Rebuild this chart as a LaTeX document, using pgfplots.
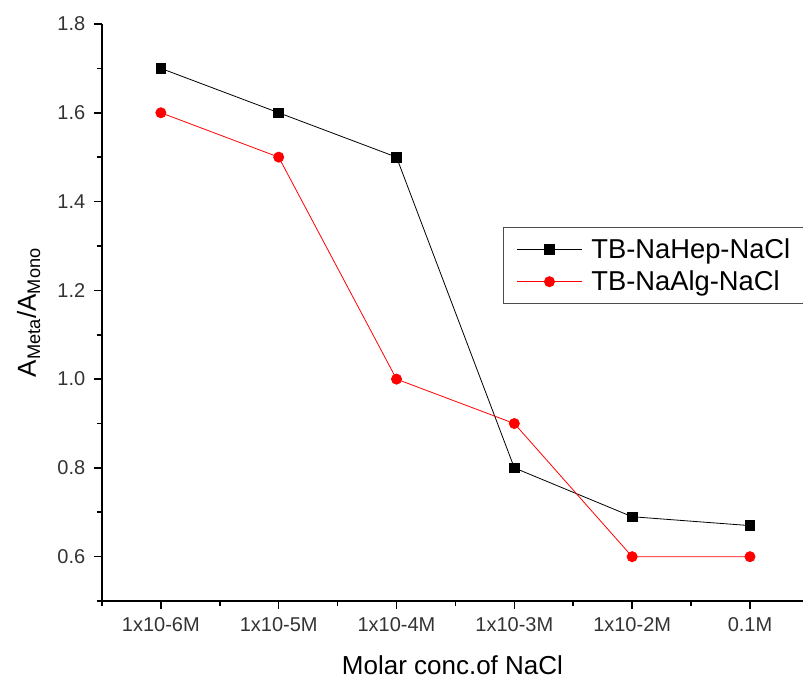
\documentclass[border=0pt]{standalone}
\usepackage{pgfplots}
\pgfplotsset{compat=1.18}
\usepackage{fontspec}
\setmainfont{Liberation Sans}
\begin{document}
\begin{tikzpicture}
\begin{axis}[
  scale only axis,
  width=526pt, height=433pt,
  xmin=-0.5, xmax=5.45,
  ymin=0.5, ymax=1.8,
  axis x line=bottom, axis y line=left,
  axis line style={line width=1.4pt, -},
  xtick={0,1,2,3,4,5},
  xticklabels={1x10-6M,1x10-5M,1x10-4M,1x10-3M,1x10-2M,0.1M},
  minor xtick={-0.5,0.5,1.5,2.5,3.5,4.5},
  ytick={0.6,0.8,1.0,1.2,1.4,1.6,1.8},
  yticklabels={0.6,0.8,1.0,1.2,1.4,1.6,1.8},
  minor ytick={0.5,0.7,0.9,1.1,1.3,1.5,1.7},
  tick style={line width=1.2pt, black},
  tick align=outside,
  major tick length=6pt, minor tick length=4pt,
  /pgf/number format/assume math mode=true,
  ticklabel style={font=\fontsize{15}{17}\selectfont, text=black!80},
  xticklabel style={yshift=-3pt},
  yticklabel style={xshift=-3pt},
  xlabel={Molar conc.of NaCl},
  ylabel={A\textsubscript{Meta}/A\textsubscript{Mono}},
  label style={font=\fontsize{19.5}{22}\selectfont},
  xlabel style={yshift=-11pt},
  ylabel style={yshift=6pt},
  clip=false,
  legend style={at={(0.572,0.648)}, anchor=north west, draw=black!70, line width=0.8pt,
    font=\fontsize{20.5}{23}\selectfont, inner xsep=10pt, inner ysep=6pt, row sep=4pt,
    nodes={inner xsep=7pt}},
  legend cell align=left,
  legend image code/.code={
    \draw[#1, mark repeat=2, mark phase=2] plot coordinates {(0cm,0cm) (0.85cm,0cm) (1.7cm,0cm)};
  },
]
\addplot[black, line width=0.6pt, mark=square*, mark size=3.6pt, mark options={solid, fill=black}]
  coordinates {(0,1.7) (1,1.6) (2,1.5) (3,0.8) (4,0.69) (5,0.67)};
\addlegendentry{TB-NaHep-NaCl}
\addplot[red, line width=0.6pt, mark=*, mark size=3.8pt, mark options={solid, fill=red}]
  coordinates {(0,1.6) (1,1.5) (2,1.0) (3,0.9) (4,0.6) (5,0.6)};
\addlegendentry{TB-NaAlg-NaCl}
\end{axis}
\pgfresetboundingbox
\path[use as bounding box] ([shift={(-76.5pt,-59.25pt)}]current axis.south west) rectangle ([shift={(0pt,18pt)}]current axis.north east);
\end{tikzpicture}
\end{document}
